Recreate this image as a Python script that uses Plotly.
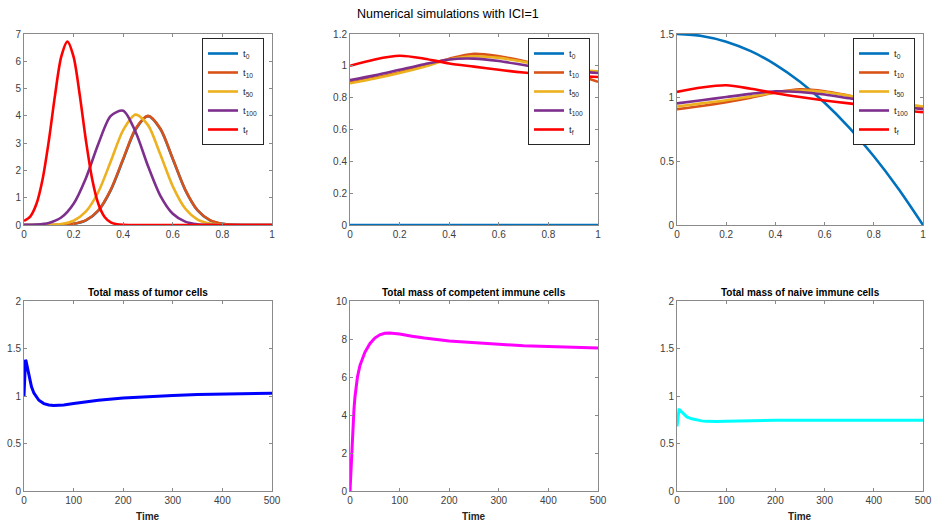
import plotly.graph_objects as go

# ---------------- data ----------------
x_grid = [0.0, 0.05, 0.1, 0.15, 0.2, 0.25, 0.3, 0.35, 0.4, 0.45, 0.5,
          0.55, 0.6, 0.65, 0.7, 0.75, 0.8, 0.85, 0.9, 0.95, 1.0]
x_fine = [0.0, 0.025, 0.05, 0.075, 0.1, 0.125, 0.15, 0.175, 0.2, 0.225, 0.25,
          0.275, 0.3, 0.325, 0.35, 0.375, 0.4, 0.425, 0.45, 0.475, 0.5,
          0.525, 0.55, 0.575, 0.6, 0.625, 0.65, 0.675, 0.7, 0.725, 0.75,
          0.775, 0.8, 0.825, 0.85, 0.875, 0.9, 0.925, 0.95, 0.975, 1.0]

# panel 1: tumour density
tum_t0 = [0, 0, 0.001, 0.008, 0.042, 0.172, 0.53, 1.28, 2.40, 3.50, 3.99,
          3.52, 2.42, 1.29, 0.535, 0.172, 0.042, 0.008, 0.001, 0, 0]
tum_t10 = [0, 0, 0.001, 0.009, 0.044, 0.176, 0.541, 1.299, 2.426, 3.53, 4.0,
           3.53, 2.426, 1.299, 0.541, 0.176, 0.044, 0.009, 0.001, 0, 0]
tum_t50 = [0, 0.001, 0.007, 0.039, 0.157, 0.496, 1.219, 2.334, 3.48, 4.045, 3.66,
           2.58, 1.416, 0.604, 0.201, 0.052, 0.011, 0.002, 0, 0, 0]
tum_t100 = [0.003, 0.016, 0.075, 0.274, 0.78, 1.727, 2.98, 4.0, 4.19, 3.41, 2.16,
            1.068, 0.411, 0.123, 0.029, 0.005, 0.001, 0, 0, 0, 0]
tum_tf = [0.15, 0.31, 0.77, 1.68, 3.08, 4.75, 6.16, 6.72, 6.16, 4.75, 3.08,
          1.68, 0.77, 0.295, 0.096, 0.026, 0.006, 0.001, 0, 0, 0,
          0, 0, 0, 0, 0, 0, 0, 0, 0, 0,
          0, 0, 0, 0, 0, 0, 0, 0, 0, 0]

x_coarse = [0.0, 0.1, 0.2, 0.3, 0.4, 0.5, 0.6, 0.7, 0.8, 0.9, 1.0]
# panel 2: competent immune density
com_t0 = [0, 0, 0, 0, 0, 0, 0, 0, 0, 0, 0]
com_t10 = [0.895, 0.925, 0.96, 1.0, 1.045, 1.075, 1.06, 1.03, 0.995, 0.95, 0.9]
com_t50 = [0.89, 0.92, 0.955, 0.995, 1.04, 1.06, 1.05, 1.025, 0.995, 0.975, 0.965]
com_t100 = [0.91, 0.94, 0.975, 1.01, 1.04, 1.045, 1.03, 1.005, 0.98, 0.965, 0.955]
com_tf = [1.0, 1.04, 1.063, 1.045, 1.015, 0.995, 0.975, 0.958, 0.945, 0.937, 0.93]

# panel 3: naive immune density
nai_t0 = [1.5, 1.485, 1.44, 1.365, 1.26, 1.125, 0.96, 0.765, 0.54, 0.285, 0.0]
nai_t10 = [0.91, 0.935, 0.965, 1.0, 1.04, 1.065, 1.05, 1.015, 0.98, 0.95, 0.92]
nai_t50 = [0.93, 0.955, 0.98, 1.01, 1.04, 1.055, 1.045, 1.015, 0.985, 0.955, 0.93]
nai_t100 = [0.955, 0.98, 1.005, 1.03, 1.05, 1.045, 1.025, 0.995, 0.965, 0.935, 0.91]
nai_tf = [1.045, 1.08, 1.098, 1.07, 1.035, 1.005, 0.978, 0.955, 0.93, 0.905, 0.885]

# bottom row: total masses over time
t_tumor = [0, 1, 2, 3, 4, 6, 8, 10, 15, 20, 30, 40, 50, 60, 70, 80, 100, 125,
           150, 200, 250, 300, 350, 400, 450, 500]
m_tumor = [1.0, 1.2, 1.33, 1.38, 1.37, 1.32, 1.26, 1.2, 1.1, 1.03, 0.955, 0.92,
           0.905, 0.9, 0.9, 0.905, 0.92, 0.94, 0.955, 0.98, 0.995, 1.005, 1.015,
           1.02, 1.025, 1.03]
t_comp = [0, 1, 2, 3, 4, 5, 6, 8, 10, 12, 15, 20, 25, 30, 40, 50, 60, 70, 80,
          90, 100, 125, 150, 200, 250, 300, 350, 400, 450, 500]
m_comp = [0, 0.6, 1.3, 2.0, 2.6, 3.1, 3.5, 4.3, 4.95, 5.45, 6.0, 6.6, 7.0, 7.3,
          7.75, 8.05, 8.22, 8.3, 8.32, 8.3, 8.26, 8.15, 8.05, 7.9, 7.8, 7.72,
          7.65, 7.6, 7.56, 7.53]
t_naive = [0, 1, 2, 3, 4, 5, 6, 8, 10, 15, 20, 30, 40, 50, 60, 70, 80, 100,
           130, 150, 200, 300, 400, 500]
m_naive = [0.68, 0.74, 0.8, 0.84, 0.855, 0.855, 0.85, 0.835, 0.82, 0.795, 0.78,
           0.76, 0.745, 0.738, 0.733, 0.73, 0.732, 0.735, 0.738, 0.745, 0.745,
           0.745, 0.745, 0.745]

legend_names = ["t<sub>0</sub>", "t<sub>10</sub>", "t<sub>50</sub>",
                "t<sub>100</sub>", "t<sub>f</sub>"]
series_colors = ["#0072BD", "#D95319", "#EDB120", "#7E2F8E", "#FF0000"]

titles_bottom = ["Total mass of tumor cells", "Total mass of competent immune cells",
                 "Total mass of naive immune cells"]
suptitle = "Numerical simulations with ICI=1"

# ---------------- layout geometry ----------------
W, H = 934, 523
FONT = "Liberation Sans, Arial, Helvetica, sans-serif"


def px(xr):
    return xr / W


def py(yr):
    return 1 - yr / H


xdoms = [(px(24), px(272)), (px(350), px(598)), (px(677), px(923))]
ydom_top = (py(225), py(34))
ydom_bot = (py(491), py(301))

fig = go.Figure()

top_sets = [
    ([x_grid, x_grid, x_grid, x_grid, x_fine],
     [tum_t0, tum_t10, tum_t50, tum_t100, tum_tf]),
    ([x_coarse] * 5, [com_t0, com_t10, com_t50, com_t100, com_tf]),
    ([x_coarse] * 5, [nai_t0, nai_t10, nai_t50, nai_t100, nai_tf]),
]
legend_ids = ["legend", "legend2", "legend3"]

for p, (xs, ys) in enumerate(top_sets):
    ax = "" if p == 0 else str(p + 1)
    for k in range(5):
        fig.add_trace(go.Scatter(
            x=xs[k], y=ys[k], mode="lines", name=legend_names[k],
            line=dict(color=series_colors[k], width=2.6, shape="spline", smoothing=0.8),
            xaxis="x" + ax, yaxis="y" + ax, legend=legend_ids[p]))

bottom_sets = [(t_tumor, m_tumor, "#0000FF"), (t_comp, m_comp, "#FF00FF"),
               (t_naive, m_naive, "#00FFFF")]
for p, (tx, my, col) in enumerate(bottom_sets):
    ax = str(p + 4)
    fig.add_trace(go.Scatter(x=tx, y=my, mode="lines", showlegend=False,
                             line=dict(color=col, width=3),
                             xaxis="x" + ax, yaxis="y" + ax))

axcommon = dict(showline=True, linecolor="#8a8a8a", linewidth=1, mirror="ticks",
                ticks="inside", ticklen=3, tickcolor="#8a8a8a", showgrid=False,
                zeroline=False, automargin=False, ticklabeloverflow="allow",
                tickfont=dict(family=FONT, size=10, color="#404040"))

yranges_top = [(0, 7, 1), (0, 1.2, 0.2), (0, 1.5, 0.5)]
yranges_bot = [(0, 2, 0.5), (0, 10, 2), (0, 2, 0.5)]
lay = {}
for p in range(3):
    ax = "" if p == 0 else str(p + 1)
    lay["xaxis" + ax] = dict(axcommon, domain=xdoms[p], range=[0, 1], dtick=0.2,
                             tick0=0, anchor="y" + ax)
    r = yranges_top[p]
    lay["yaxis" + ax] = dict(axcommon, domain=ydom_top, range=[r[0], r[1]], dtick=r[2],
                             tick0=0, anchor="x" + ax)
for p in range(3):
    ax = str(p + 4)
    lay["xaxis" + ax] = dict(axcommon, domain=xdoms[p], range=[0, 500], dtick=100,
                             tick0=0, anchor="y" + ax)
    r = yranges_bot[p]
    lay["yaxis" + ax] = dict(axcommon, domain=ydom_bot, range=[r[0], r[1]], dtick=r[2],
                             tick0=0, anchor="x" + ax)

leg_right = [px(264), px(590), px(915)]
for p in range(3):
    key = legend_ids[p]
    lay[key] = dict(x=leg_right[p], xanchor="right", y=py(38), yanchor="top",
                    bgcolor="white", bordercolor="#262626", borderwidth=1,
                    font=dict(family=FONT, size=9.5, color="#262626"),
                    tracegroupgap=0, itemwidth=30)

annotations = [dict(text=suptitle, x=px(448), y=py(14), xref="paper", yref="paper",
                    showarrow=False, xanchor="center", yanchor="middle",
                    font=dict(family=FONT, size=12.5, color="#000000"))]
for p in range(3):
    cx = (xdoms[p][0] + xdoms[p][1]) / 2
    annotations.append(dict(text="<b>" + titles_bottom[p] + "</b>", x=cx, y=py(292),
                            xref="paper", yref="paper", showarrow=False,
                            xanchor="center", yanchor="middle",
                            font=dict(family=FONT, size=10, color="#000000")))
    annotations.append(dict(text="<b>Time</b>", x=cx, y=py(516),
                            xref="paper", yref="paper", showarrow=False,
                            xanchor="center", yanchor="middle",
                            font=dict(family=FONT, size=10, color="#262626")))

fig.update_layout(width=W, height=H, margin=dict(l=0, r=0, t=0, b=0, autoexpand=False),
                  paper_bgcolor="white", plot_bgcolor="white",
                  font=dict(family=FONT), annotations=annotations, **lay)

# remove the default page margin so the 934x523 figure fills the window exactly
page_fix = "document.body.style.margin='0';document.body.style.overflow='hidden';"
fig.write_html("out.html", post_script=page_fix, config={"displayModeBar": False})
